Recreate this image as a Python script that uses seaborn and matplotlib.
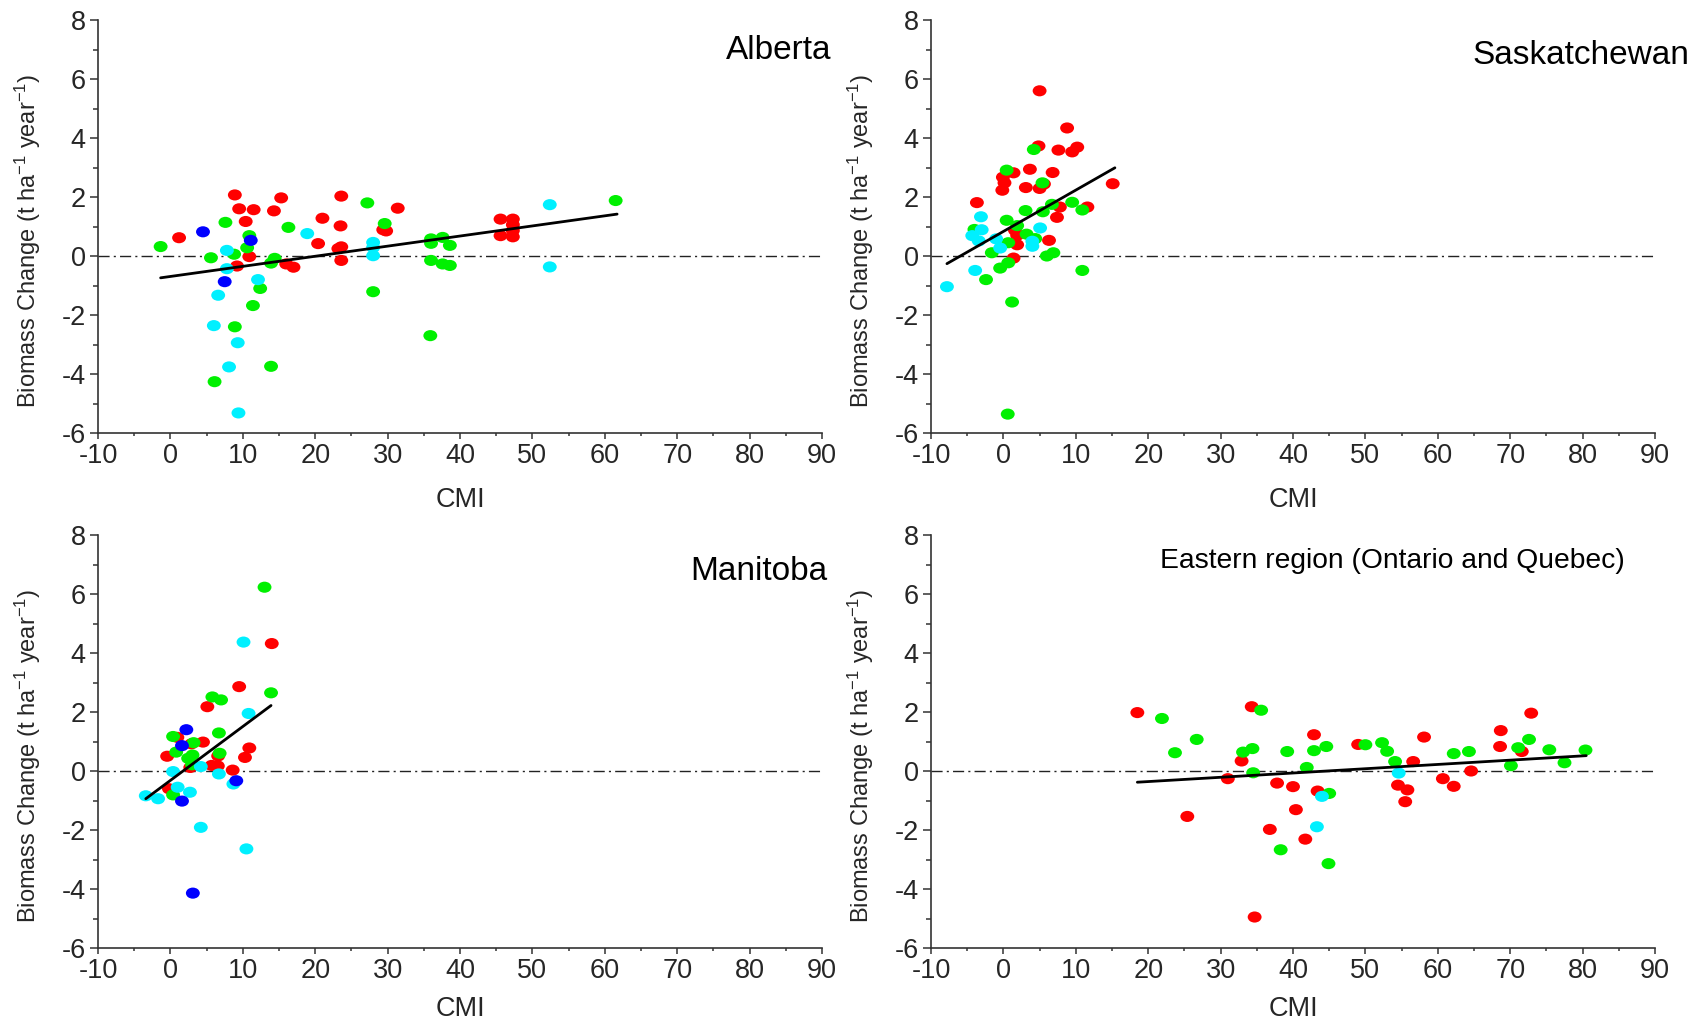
import matplotlib
matplotlib.use("Agg")
import matplotlib.pyplot as plt
from matplotlib.path import Path
from matplotlib.ticker import MultipleLocator
import numpy as np
import pandas as pd
import seaborn as sns

# ---------------- data ----------------
regions = ["Alberta", "Saskatchewan", "Manitoba", "Eastern region (Ontario and Quebec)"]
groups = ["red", "green", "cyan", "blue"]

# Alberta
ab_red_x = [1.2, 8.9, 9.5, 11.5, 10.4, 10.9, 9.2, 14.3, 15.3, 16.0, 17.0, 21.0, 20.4, 23.6, 23.5, 23.2, 23.6, 23.6, 29.4, 29.8, 31.4, 45.6, 45.6, 47.3, 47.3, 47.3, 47.3]
ab_red_y = [0.62, 2.07, 1.60, 1.57, 1.17, -0.02, -0.34, 1.53, 1.97, -0.27, -0.38, 1.28, 0.42, 2.03, 1.02, 0.25, 0.31, -0.15, 0.89, 0.85, 1.62, 1.25, 0.69, 1.25, 1.06, 0.86, 0.65]
ab_green_x = [-1.35, 5.6, 7.6, 8.8, 10.9, 10.6, 11.4, 12.4, 8.9, 6.1, 13.9, 14.4, 13.9, 16.3, 27.2, 29.6, 28.0, 36.0, 36.0, 36.0, 37.6, 37.6, 38.6, 38.6, 35.9, 61.5]
ab_green_y = [0.32, -0.06, 1.14, 0.06, 0.69, 0.28, -1.68, -1.10, -2.40, -4.26, -3.74, -0.08, -0.24, 0.97, 1.80, 1.10, -1.21, 0.58, 0.43, -0.15, 0.63, -0.27, 0.36, -0.32, -2.70, 1.88]
ab_cyan_x = [7.8, 7.8, 6.6, 6.0, 8.1, 9.3, 9.4, 12.1, 18.9, 28.0, 28.0, 28.0, 52.4, 52.4]
ab_cyan_y = [0.19, -0.43, -1.33, -2.36, -3.76, -2.94, -5.32, -0.80, 0.76, 0.46, 0.29, 0.01, 1.74, -0.37]
ab_blue_x = [4.5, 11.1, 7.5]
ab_blue_y = [0.82, 0.53, -0.87]
ab_fit_x = [-1.35, 61.7]
ab_fit_y = [-0.74, 1.42]

# Saskatchewan
sk_red_x = [5.0, 8.8, 4.85, 7.6, 9.5, 10.2, 3.66, 6.8, 1.4, -0.07, 0.15, -0.15, 3.1, 5.0, 5.6, 15.1, -3.66, 7.8, 11.6, 7.4, 1.6, 1.9, 1.9, 6.3, 1.4]
sk_red_y = [5.60, 4.34, 3.73, 3.59, 3.53, 3.69, 2.94, 2.83, 2.82, 2.67, 2.48, 2.23, 2.32, 2.29, 2.44, 2.45, 1.81, 1.66, 1.66, 1.31, 0.87, 0.70, 0.38, 0.53, -0.07]
sk_green_x = [4.2, 0.45, 5.4, 9.5, 6.7, 3.06, 5.45, 10.9, 0.45, -4.0, 1.9, 3.2, 4.4, 0.67, -1.6, 6.9, 6.0, 0.67, -0.45, -2.4, 10.9, 1.2, 0.6]
sk_green_y = [3.61, 2.91, 2.48, 1.82, 1.75, 1.54, 1.50, 1.56, 1.21, 0.90, 1.03, 0.74, 0.59, 0.45, 0.11, 0.11, 0.0, -0.23, -0.41, -0.80, -0.49, -1.56, -5.36]
sk_cyan_x = [-3.1, -3.0, -4.3, -3.4, -1.0, -0.45, 5.07, 4.0, 4.0, -3.9, -7.8]
sk_cyan_y = [1.33, 0.89, 0.69, 0.51, 0.58, 0.27, 0.95, 0.50, 0.33, -0.49, -1.04]
sk_blue_x = []
sk_blue_y = []
sk_fit_x = [-7.8, 15.4]
sk_fit_y = [-0.26, 2.99]

# Manitoba
mb_red_x = [14.0, 9.5, 5.1, 0.96, 2.9, 4.5, -0.45, 6.6, 10.9, 10.3, 5.7, 6.55, 2.75, 8.6, -0.2]
mb_red_y = [4.32, 2.86, 2.18, 1.14, 0.92, 0.98, 0.50, 0.51, 0.78, 0.46, 0.19, 0.17, 0.12, 0.03, -0.60]
mb_green_x = [13.0, 13.9, 5.8, 7.0, 6.7, 0.37, 0.8, 3.05, 2.45, 6.8, 3.0, 0.37, 3.2]
mb_green_y = [6.23, 2.65, 2.51, 2.41, 1.29, 1.17, 0.64, 0.54, 0.43, 0.60, 0.21, -0.81, 0.96]
mb_cyan_x = [10.1, 10.8, 4.2, 0.37, 6.7, 8.7, 1.0, 2.7, -3.4, -1.7, 4.2, 10.5]
mb_cyan_y = [4.37, 1.95, 0.15, -0.02, -0.10, -0.44, -0.55, -0.72, -0.84, -0.94, -1.91, -2.64]
mb_blue_x = [2.2, 1.6, 1.6, 9.1, 3.1]
mb_blue_y = [1.40, 0.86, -1.02, -0.33, -4.14]
mb_fit_x = [-3.4, 13.9]
mb_fit_y = [-0.94, 2.22]

# Eastern region (Ontario and Quebec)
er_red_x = [18.5, 34.3, 42.9, 49.0, 58.1, 68.6, 68.7, 72.9, 71.6, 32.9, 56.6, 64.6, 31.0, 37.8, 40.0, 43.4, 54.5, 55.8, 60.7, 62.2, 55.5, 40.4, 25.4, 36.8, 41.7, 34.7]
er_red_y = [1.98, 2.18, 1.23, 0.90, 1.15, 0.83, 1.37, 1.96, 0.66, 0.34, 0.32, 0.0, -0.26, -0.41, -0.53, -0.68, -0.48, -0.64, -0.26, -0.52, -1.04, -1.31, -1.54, -1.98, -2.31, -4.95]
er_green_x = [21.9, 35.6, 26.7, 23.7, 33.1, 34.4, 39.2, 42.9, 44.6, 50.0, 52.3, 53.0, 54.1, 62.2, 64.3, 71.1, 72.6, 75.4, 80.4, 77.5, 70.1, 41.9, 34.5, 45.0, 38.3, 44.9]
er_green_y = [1.78, 2.06, 1.07, 0.62, 0.64, 0.76, 0.66, 0.69, 0.83, 0.89, 0.96, 0.67, 0.32, 0.59, 0.66, 0.79, 1.07, 0.72, 0.71, 0.28, 0.18, 0.12, -0.06, -0.76, -2.67, -3.14]
er_cyan_x = [54.6, 44.0, 43.3]
er_cyan_y = [-0.07, -0.86, -1.89]
er_blue_x = []
er_blue_y = []
er_fit_x = [18.5, 80.5]
er_fit_y = [-0.38, 0.52]

x_ticks = [-10, 0, 10, 20, 30, 40, 50, 60, 70, 80, 90]
y_ticks = [-6, -4, -2, 0, 2, 4, 6, 8]

# ---------------- build tables ----------------
series = {
    "Alberta": [(ab_red_x, ab_red_y), (ab_green_x, ab_green_y), (ab_cyan_x, ab_cyan_y), (ab_blue_x, ab_blue_y)],
    "Saskatchewan": [(sk_red_x, sk_red_y), (sk_green_x, sk_green_y), (sk_cyan_x, sk_cyan_y), (sk_blue_x, sk_blue_y)],
    "Manitoba": [(mb_red_x, mb_red_y), (mb_green_x, mb_green_y), (mb_cyan_x, mb_cyan_y), (mb_blue_x, mb_blue_y)],
    "Eastern region (Ontario and Quebec)": [(er_red_x, er_red_y), (er_green_x, er_green_y), (er_cyan_x, er_cyan_y), (er_blue_x, er_blue_y)],
}
fits = {
    "Alberta": (ab_fit_x, ab_fit_y),
    "Saskatchewan": (sk_fit_x, sk_fit_y),
    "Manitoba": (mb_fit_x, mb_fit_y),
    "Eastern region (Ontario and Quebec)": (er_fit_x, er_fit_y),
}
rows = []
for reg in regions:
    for g, (xs, ys) in zip(groups, series[reg]):
        for xv, yv in zip(xs, ys):
            rows.append({"region": reg, "group": g, "CMI": xv, "BC": yv})
df = pd.DataFrame(rows)

palette = {"red": "#FF0000", "green": "#00F000", "cyan": "#00F0FF", "blue": "#0000FF"}

# ---------------- style ----------------
sns.set_theme(style="ticks")
plt.rcParams["font.family"] = ["Liberation Sans", "DejaVu Sans"]
plt.rcParams["axes.unicode_minus"] = False
plt.rcParams["mathtext.fontset"] = "custom"
plt.rcParams["mathtext.rm"] = "Liberation Sans"
plt.rcParams["mathtext.it"] = "Liberation Sans:italic"
plt.rcParams["mathtext.bf"] = "Liberation Sans:bold"

circ = Path.unit_circle()
ell_marker = Path(circ.vertices * np.array([1.0, 0.8]), circ.codes)

fig = plt.figure(figsize=(16.92, 10.24), dpi=100)
W, H = 1692, 1024
ax_w, ax_h = 724 / W, 413 / H
positions = {
    "Alberta": (98 / W, 1 - 433 / H),
    "Saskatchewan": (931 / W, 1 - 433 / H),
    "Manitoba": (98 / W, 1 - 948 / H),
    "Eastern region (Ontario and Quebec)": (931 / W, 1 - 948 / H),
}
title_pos = {
    "Alberta": (1.013, 0.927, 24),
    "Saskatchewan": (1.047, 0.913, 24),
    "Manitoba": (1.007, 0.912, 24),
    "Eastern region (Ontario and Quebec)": (0.958, 0.938, 20.3),
}
xlabel_y = {
    "Alberta": -0.13,
    "Saskatchewan": -0.13,
    "Manitoba": -0.117,
    "Eastern region (Ontario and Quebec)": -0.117,
}
spine_c = "#333333"

for reg in regions:
    l, b = positions[reg]
    ax = fig.add_axes([l, b, ax_w, ax_h])
    sub = df[df["region"] == reg]
    ax.axhline(0, color="#222222", lw=1.0, ls=(0, (8, 3, 1.5, 3)), zorder=1)
    sns.scatterplot(data=sub, x="CMI", y="BC", hue="group", palette=palette,
                    hue_order=groups, marker=ell_marker, s=100, linewidth=0,
                    legend=False, ax=ax, zorder=3)
    fx, fy = fits[reg]
    sns.lineplot(x=fx, y=fy, color="black", lw=2.0, ax=ax, zorder=4)
    ax.set_xlim(-10, 90)
    ax.set_ylim(-6, 8)
    ax.set_xticks(x_ticks)
    ax.set_yticks(y_ticks)
    ax.xaxis.set_minor_locator(MultipleLocator(5))
    ax.yaxis.set_minor_locator(MultipleLocator(1))
    sns.despine(ax=ax)
    for sp in ["left", "bottom"]:
        ax.spines[sp].set_color(spine_c)
        ax.spines[sp].set_linewidth(1.2)
    ax.tick_params(axis="x", which="major", direction="out", length=4.5, width=1.1,
                   color=spine_c, labelsize=19.5, pad=3)
    ax.tick_params(axis="x", which="minor", direction="out", length=2.5, width=1.1, color=spine_c)
    ax.tick_params(axis="y", which="major", direction="out", length=6, width=1.1,
                   color=spine_c, labelsize=19.5, pad=3)
    ax.tick_params(axis="y", which="minor", direction="out", length=3.5, width=1.1, color=spine_c)
    ax.set_xlabel("CMI", fontsize=19.5)
    ax.set_ylabel("Biomass Change (t ha$^{-1}$ year$^{-1}$)", fontsize=17)
    ax.xaxis.set_label_coords(0.5, xlabel_y[reg])
    ax.yaxis.set_label_coords(-0.076, 0.465)
    tx, ty, fs = title_pos[reg]
    ax.text(tx, ty, reg, transform=ax.transAxes, ha="right", va="center", fontsize=fs,
            color="black", clip_on=False)
    ax.set_facecolor("white")

fig.savefig("out.png", dpi=100, facecolor="white")
